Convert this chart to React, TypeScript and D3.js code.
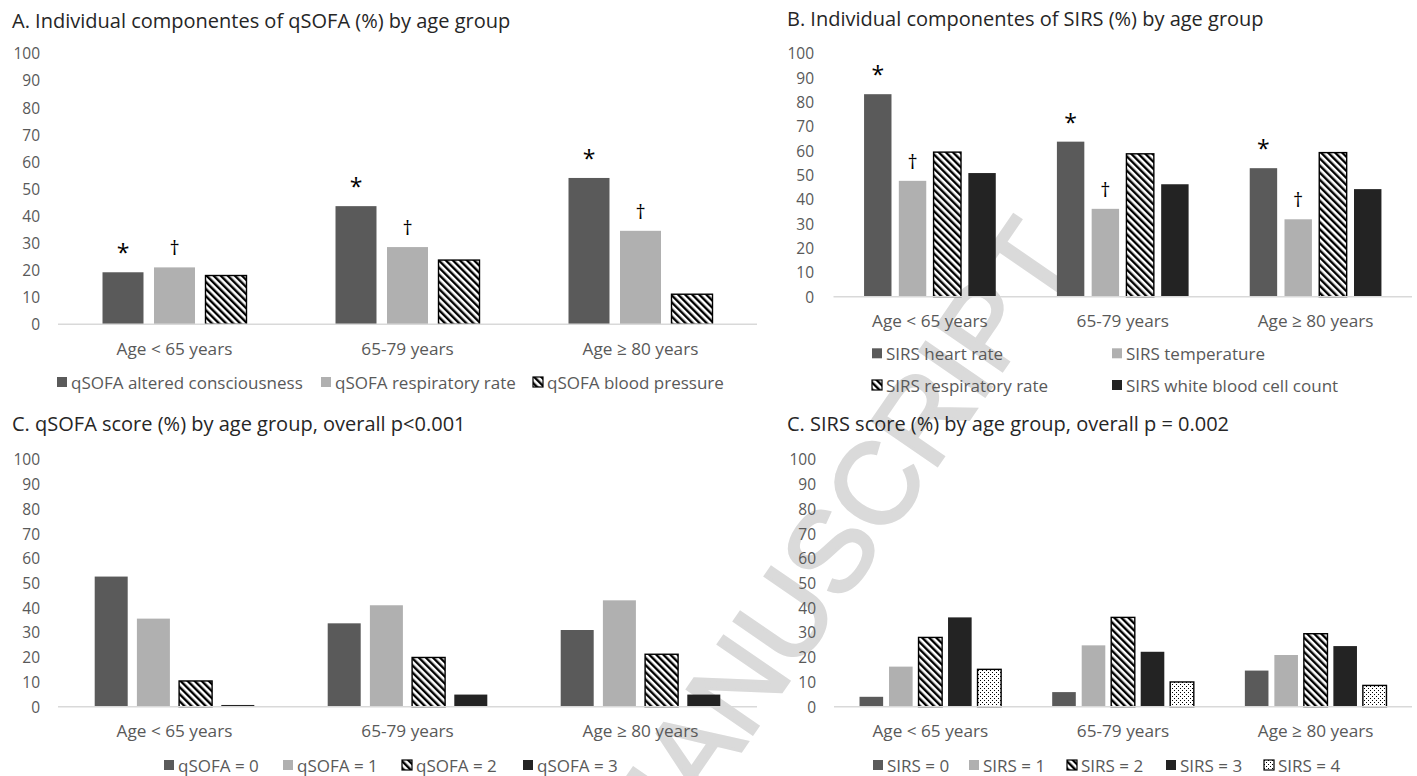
import React, { useEffect } from 'react';
import * as d3 from 'd3';

// categories and axis
const ageGroups = ['Age < 65 years', '65-79 years', 'Age ≥ 80 years'];
const yTicks = [0, 10, 20, 30, 40, 50, 60, 70, 80, 90, 100];

// A. qSOFA components (%)
const qsofaComponentNames = ['qSOFA altered consciousness', 'qSOFA respiratory rate', 'qSOFA blood pressure'];
const qsofaAltered = [19.2, 43.6, 54.0];
const qsofaResp = [21.0, 28.5, 34.5];
const qsofaBP = [18.0, 23.7, 11.1];

// B. SIRS components (%)
const sirsComponentNames = ['SIRS heart rate', 'SIRS temperature', 'SIRS respiratory rate', 'SIRS white blood cell count'];
const sirsHeart = [83.2, 63.7, 52.8];
const sirsTemp = [47.6, 36.1, 31.8];
const sirsResp = [59.4, 58.7, 59.2];
const sirsWbc = [50.8, 46.2, 44.2];

// C. qSOFA score (%)
const qsofaScoreNames = ['qSOFA = 0', 'qSOFA = 1', 'qSOFA = 2', 'qSOFA = 3'];
const qsofa0 = [52.6, 33.7, 31.0];
const qsofa1 = [35.6, 41.0, 43.0];
const qsofa2 = [10.4, 19.9, 21.2];
const qsofa3 = [0.7, 4.9, 4.9];

// D. SIRS score (%)
const sirsScoreNames = ['SIRS = 0', 'SIRS = 1', 'SIRS = 2', 'SIRS = 3', 'SIRS = 4'];
const sirs0 = [4.0, 5.9, 14.6];
const sirs1 = [16.2, 24.8, 20.9];
const sirs2 = [28.0, 36.1, 29.5];
const sirs3 = [36.1, 22.2, 24.5];
const sirs4 = [15.1, 10.0, 8.6];

const FILL: Record<string, string> = {
  dark: '#5a5a5a',
  light: '#b0b0b0',
  black: '#232323',
  hatch: 'url(#hatch)',
  dots: 'url(#dots)',
};

const FONT = '"Open Sans", sans-serif';

type Panel = {
  title: string;
  titleX: number;
  titleY: number;
  names: string[];
  series: number[][];
  fills: string[];
  x0: number;
  x1: number;
  yZero: number;
  yTop: number;
  groupPad: number;
  barPad: number;
  tickX: number;
  catY: number;
  legend: { x: number; y: number }[];
  marks?: { s: number; sym: string }[];
};

const panels: Panel[] = [
  {
    title: 'A. Individual componentes of qSOFA (%) by age group',
    titleX: 12, titleY: 20,
    names: qsofaComponentNames,
    series: [qsofaAltered, qsofaResp, qsofaBP],
    fills: ['dark', 'light', 'hatch'],
    x0: 58, x1: 757, yZero: 324.3, yTop: 53.3,
    groupPad: 0.382, barPad: 0.204,
    tickX: 40, catY: 348,
    legend: [{ x: 57, y: 382 }, { x: 321, y: 382 }, { x: 533, y: 382 }],
    marks: [{ s: 0, sym: '*' }, { s: 1, sym: '†' }],
  },
  {
    title: 'B. Individual componentes of SIRS (%) by age group',
    titleX: 787, titleY: 18.5,
    names: sirsComponentNames,
    series: [sirsHeart, sirsTemp, sirsResp, sirsWbc],
    fills: ['dark', 'light', 'hatch', 'black'],
    x0: 833.5, x1: 1412, yZero: 296.7, yTop: 53.3,
    groupPad: 0.317, barPad: 0.211,
    tickX: 814, catY: 320.7,
    legend: [{ x: 872, y: 353.3 }, { x: 1112, y: 353.3 }, { x: 872, y: 385 }, { x: 1112, y: 385 }],
    marks: [{ s: 0, sym: '*' }, { s: 1, sym: '†' }],
  },
  {
    title: 'C. qSOFA score (%) by age group, overall p<0.001',
    titleX: 12, titleY: 423.3,
    names: qsofaScoreNames,
    series: [qsofa0, qsofa1, qsofa2, qsofa3],
    fills: ['dark', 'light', 'hatch', 'black'],
    x0: 58, x1: 757, yZero: 706.7, yTop: 459.3,
    groupPad: 0.315, barPad: 0.218,
    tickX: 40, catY: 730,
    legend: [{ x: 164, y: 765 }, { x: 283, y: 765 }, { x: 402, y: 765 }, { x: 523, y: 765 }],
  },
  {
    title: 'C. SIRS score (%) by age group, overall p = 0.002',
    titleX: 787, titleY: 423.3,
    names: sirsScoreNames,
    series: [sirs0, sirs1, sirs2, sirs3, sirs4],
    fills: ['dark', 'light', 'hatch', 'black', 'dots'],
    x0: 834, x1: 1412, yZero: 706.7, yTop: 459.3,
    groupPad: 0.265, barPad: 0.2,
    tickX: 816, catY: 730,
    legend: [{ x: 873, y: 765 }, { x: 969, y: 765 }, { x: 1067, y: 765 }, { x: 1166, y: 765 }, { x: 1264, y: 765 }],
  },
];

const patterned = (f: string) => f === 'hatch' || f === 'dots';

const ChartPanel = ({ p }: { p: Panel }) => {
  const x = d3.scaleBand<string>()
    .domain(ageGroups)
    .range([p.x0, p.x1])
    .paddingInner(p.groupPad)
    .paddingOuter(p.groupPad / 2);
  const xs = d3.scaleBand<number>()
    .domain(d3.range(p.series.length))
    .range([0, x.bandwidth()])
    .paddingInner(p.barPad);
  const y = d3.scaleLinear().domain([0, 100]).range([p.yZero, p.yTop]);

  return (
    <g>
      <text x={p.titleX} y={p.titleY} dominantBaseline="central" fontSize={20} fill="#262626">{p.title}</text>

      {yTicks.map(t => (
        <text key={t} x={p.tickX} y={y(t)} textAnchor="end" dominantBaseline="central" fontSize={15.5} fill="#595959">{t}</text>
      ))}

      {p.series.map((vals, i) => vals.map((v, j) => {
        const f = p.fills[i];
        return (
          <rect key={`${i}-${j}`}
            x={x(ageGroups[j])! + xs(i)!}
            y={y(v)}
            width={xs.bandwidth()}
            height={p.yZero - y(v)}
            fill={FILL[f]}
            stroke={patterned(f) ? '#000' : 'none'}
            strokeWidth={1.4} />
        );
      }))}

      <line x1={p.x0} x2={p.x1} y1={p.yZero} y2={p.yZero} stroke="#d9d9d9" strokeWidth={1.5} />

      {p.marks && p.marks.map(m => p.series[m.s].map((v, j) => {
        const cx = x(ageGroups[j])! + xs(m.s)! + xs.bandwidth() / 2;
        const top = y(v);
        return m.sym === '*'
          ? <text key={`m${m.s}-${j}`} x={cx} y={top - 11} textAnchor="middle" fontSize={23} fill="#000">*</text>
          : <text key={`m${m.s}-${j}`} x={cx} y={top - 12} textAnchor="middle" fontSize={20} fill="#000">†</text>;
      }))}

      {ageGroups.map(g => (
        <text key={g} x={x(g)! + x.bandwidth() / 2} y={p.catY} textAnchor="middle" dominantBaseline="central" fontSize={17.2} fill="#595959">{g}</text>
      ))}

      {p.names.map((n, i) => {
        const pos = p.legend[i];
        const f = p.fills[i];
        return (
          <g key={n}>
            <rect x={pos.x} y={pos.y - 5} width={10} height={10} fill={FILL[f]}
              stroke={patterned(f) ? '#000' : 'none'} strokeWidth={1.2} />
            <text x={pos.x + 14} y={pos.y} dominantBaseline="central" fontSize={17} fill="#595959">{n}</text>
          </g>
        );
      })}
    </g>
  );
};

export default function App() {
  useEffect(() => {
    document.body.style.margin = '0';
  }, []);

  return (
    <svg width={1417} height={776} style={{ position: 'absolute', left: 0, top: 0, background: '#fff' }} fontFamily={FONT}>
      <defs>
        <pattern id="hatch" patternUnits="userSpaceOnUse" width={5} height={5} patternTransform="rotate(-45)">
          <rect width={5} height={5} fill="#fff" />
          <rect width={2.4} height={5} fill="#000" />
        </pattern>
        <pattern id="dots" patternUnits="userSpaceOnUse" width={4} height={4}>
          <rect width={4} height={4} fill="#fff" />
          <rect x={0} y={0} width={1} height={1} fill="#000" />
          <rect x={2} y={2} width={1} height={1} fill="#000" />
        </pattern>
      </defs>

      <text x={832} y={548} transform="rotate(-55.5 832 548)" textAnchor="middle" dominantBaseline="central"
        fontFamily='"Liberation Sans", Arial, sans-serif' fontSize={115} fill="#dadada"
        stroke="#dadada" strokeWidth={3}>MANUSCRIPT</text>

      {panels.map(p => <ChartPanel key={p.title} p={p} />)}
    </svg>
  );
}
